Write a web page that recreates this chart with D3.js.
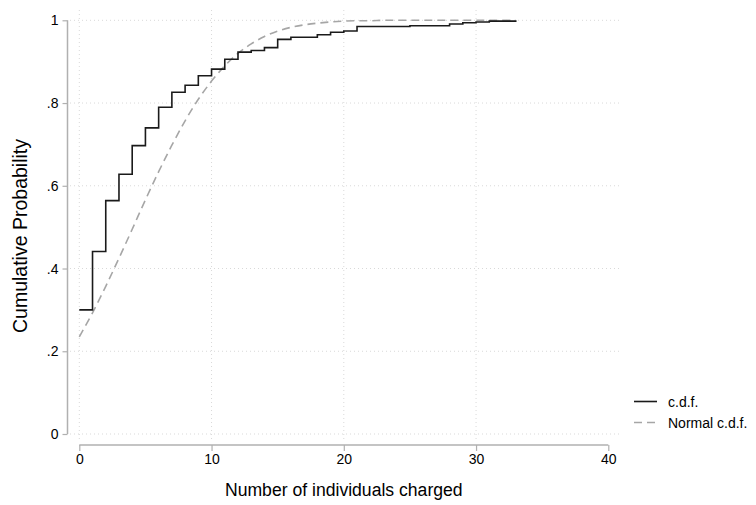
<!DOCTYPE html>
<html>
<head>
<meta charset="utf-8">
<script src="https://cdn.jsdelivr.net/npm/d3@7"></script>
<style>
  body { margin: 0; background: #fff; }
  svg { font-family: Arial, "Liberation Sans", sans-serif; }
</style>
</head>
<body>
<svg id="chart" width="756" height="505"></svg>
<script>
// number of individuals charged (x) and empirical c.d.f. at each value
var xValues = [0,1,2,3,4,5,6,7,8,9,10,11,12,13,14,15,16,17,18,19,20,21,22,23,24,25,26,27,28,29,30,31,32,33];
var cdfValues = [0.300,0.441,0.564,0.628,0.697,0.740,0.790,0.826,0.843,0.866,0.882,0.906,0.923,0.927,0.934,0.954,0.959,0.959,0.965,0.971,0.974,0.985,0.985,0.985,0.985,0.987,0.987,0.987,0.991,0.994,0.996,0.998,0.998,1.000];
// normal c.d.f. at the same x values
var normalValues = [0.235,0.293,0.357,0.425,0.495,0.566,0.634,0.698,0.757,0.809,0.853,0.890,0.920,0.943,0.961,0.974,0.983,0.989,0.993,0.996,0.998,0.999,0.999,1.000,1.000,1.000,1.000,1.000,1.000,1.000,1.000,1.000,1.000,1.000];

var xTicks = [0, 10, 20, 30, 40];
var yTicks = [0, 0.2, 0.4, 0.6, 0.8, 1];
var yTickLabels = ["0", ".2", ".4", ".6", ".8", "1"];
var legendLabels = ["c.d.f.", "Normal c.d.f."];

var svg = d3.select("#chart");

var x = d3.scaleLinear().domain([0, 40]).range([79.3, 608.3]);
var y = d3.scaleLinear().domain([0, 1]).range([434, 20.3]);

var gridColor = "#d9d9d9";
var axisColor = "#b0b0b0";

// grid lines (dotted)
svg.append("g").selectAll("line")
  .data(yTicks)
  .enter()
  .append("line")
  .attr("x1", 70).attr("x2", 620)
  .attr("y1", function(d){ return y(d); })
  .attr("y2", function(d){ return y(d); })
  .attr("stroke", gridColor)
  .attr("stroke-width", 1)
  .attr("stroke-dasharray", "1,3");

svg.append("g").selectAll("line")
  .data(xTicks.slice(0, 4))
  .enter()
  .append("line")
  .attr("x1", function(d){ return x(d); })
  .attr("x2", function(d){ return x(d); })
  .attr("y1", 10).attr("y2", 442)
  .attr("stroke", gridColor)
  .attr("stroke-width", 1)
  .attr("stroke-dasharray", "1,3");

// y axis
var yAxis = d3.axisLeft(y).tickValues(yTicks)
  .tickFormat(function(d, i){ return yTickLabels[i]; })
  .tickSize(5).tickPadding(4);
var gy = svg.append("g")
  .attr("transform", "translate(67.5,0)")
  .call(yAxis);
gy.select(".domain").attr("d", "M0," + y(0) + "V" + y(1)).attr("stroke", axisColor).attr("stroke-width", 1.5);
gy.selectAll(".tick line").attr("stroke", axisColor).attr("stroke-width", 1.2);
gy.selectAll(".tick text").attr("font-size", 14).attr("fill", "#000");

// x axis
var xAxis = d3.axisBottom(x).tickValues(xTicks).tickSize(6).tickPadding(3);
var gx = svg.append("g")
  .attr("transform", "translate(0,445)")
  .call(xAxis);
gx.select(".domain").attr("d", "M" + x(0) + ",0H" + x(40)).attr("stroke", axisColor).attr("stroke-width", 1.5);
gx.selectAll(".tick line").attr("stroke", axisColor).attr("stroke-width", 1.2);
gx.selectAll(".tick text").attr("font-size", 14).attr("fill", "#000");

// axis titles
svg.append("text")
  .attr("x", (x(0) + x(40)) / 2)
  .attr("y", 496)
  .attr("text-anchor", "middle")
  .attr("font-size", 17.6)
  .text("Number of individuals charged");

svg.append("text")
  .attr("transform", "translate(27,236) rotate(-90)")
  .attr("text-anchor", "middle")
  .attr("font-size", 19.5)
  .text("Cumulative Probability");

// series
var cdfData = xValues.map(function(d, i){ return { x: d, y: cdfValues[i] }; });
var normalData = xValues.map(function(d, i){ return { x: d, y: normalValues[i] }; });

var normalLine = d3.line()
  .x(function(d){ return x(d.x); })
  .y(function(d){ return y(d.y); })
  .curve(d3.curveMonotoneX);

var stepLine = d3.line()
  .x(function(d){ return x(d.x); })
  .y(function(d){ return y(d.y); })
  .curve(d3.curveStepAfter);

svg.append("path")
  .datum(normalData)
  .attr("d", normalLine)
  .attr("fill", "none")
  .attr("stroke", "#a6a6a6")
  .attr("stroke-width", 1.6)
  .attr("stroke-dasharray", "8,5");

svg.append("path")
  .datum(cdfData)
  .attr("d", stepLine)
  .attr("fill", "none")
  .attr("stroke", "#1a1a1a")
  .attr("stroke-width", 1.6);

// legend
var legend = svg.append("g");
var legendStyles = [
  { color: "#1a1a1a", dash: null },
  { color: "#a6a6a6", dash: "8,5" }
];
legendLabels.forEach(function(label, i){
  var ly = 401.5 + i * 21;
  legend.append("line")
    .attr("x1", 634).attr("x2", 657)
    .attr("y1", ly).attr("y2", ly)
    .attr("stroke", legendStyles[i].color)
    .attr("stroke-width", 1.6)
    .attr("stroke-dasharray", legendStyles[i].dash);
  legend.append("text")
    .attr("x", 668)
    .attr("y", ly + 5)
    .attr("font-size", 14)
    .text(label);
});
</script>
</body>
</html>
